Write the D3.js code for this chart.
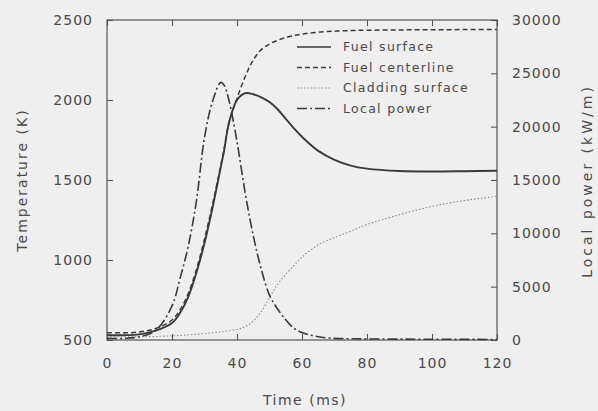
<!DOCTYPE html>
<html>
<head>
<meta charset="utf-8">
<script src="https://cdn.jsdelivr.net/npm/d3@7"></script>
<style>
  html, body { margin: 0; padding: 0; background: #efefef; }
  svg { display: block; }
  text { font-family: "DejaVu Sans", sans-serif; fill: #4a4a4a; }
</style>
</head>
<body>
<svg id="chart" width="598" height="411"></svg>
<script>
// ---- data ----
const time = [0, 5, 10, 15, 20, 22.5, 25, 27.5, 30, 32.5, 35, 36, 37.5, 40, 42.5, 45, 47.5, 50, 52.5, 55, 57.5, 60, 65, 70, 75, 80, 90, 100, 110, 120];
const fuelSurface = [530, 530, 535, 558, 606, 670, 770, 920, 1106, 1330, 1580, 1680, 1855, 2000, 2042, 2036, 2017, 1987, 1942, 1882, 1823, 1770, 1682, 1626, 1590, 1571, 1556, 1553, 1555, 1558];
const fuelCenterline = [545, 545, 550, 572, 625, 690, 790, 940, 1130, 1350, 1590, 1690, 1855, 2010, 2145, 2250, 2315, 2350, 2373, 2390, 2403, 2412, 2424, 2430, 2434, 2436, 2438, 2439, 2440, 2440];
const claddingSurface = [520, 520, 520, 522, 526, 528, 532, 536, 540, 545, 550, 553, 558, 566, 583, 618, 678, 765, 848, 910, 965, 1018, 1095, 1140, 1180, 1222, 1283, 1335, 1372, 1398];
const localPower = [150, 150, 300, 900, 3200, 5800, 8800, 13000, 19000, 22400, 24150, 23900, 22500, 18600, 13800, 9800, 6600, 4200, 2900, 1900, 1100, 700, 300, 150, 120, 100, 80, 70, 60, 50];

const xTicks = [0, 20, 40, 60, 80, 100, 120];
const tempTicks = [500, 1000, 1500, 2000, 2500];
const powerTicks = [0, 5000, 10000, 15000, 20000, 25000, 30000];

const seriesNames = ["Fuel surface", "Fuel centerline", "Cladding surface", "Local power"];

// ---- layout ----
const svg = d3.select("#chart");
const L = 107, R = 497, T = 20, B = 340;

const x = d3.scaleLinear().domain([0, 120]).range([L, R]);
const yT = d3.scaleLinear().domain([500, 2500]).range([B, T]);
const yP = d3.scaleLinear().domain([0, 30000]).range([B, T]);

const styles = [
  { stroke: "#3a3a3a", width: 1.9, dash: null },
  { stroke: "#3a3a3a", width: 1.5, dash: "5,3" },
  { stroke: "#8a8a8a", width: 1.1, dash: "1.5,2" },
  { stroke: "#3a3a3a", width: 1.6, dash: "10,3,2,3" }
];

// frame
svg.append("rect")
  .attr("x", L).attr("y", T).attr("width", R - L).attr("height", B - T)
  .attr("fill", "none").attr("stroke", "#555").attr("stroke-width", 1.2);

function styleAxis(g) {
  g.select(".domain").remove();
  g.selectAll(".tick line").attr("stroke", "#555").attr("stroke-width", 1.1);
  g.selectAll(".tick text")
    .style("font-family", "DejaVu Sans, sans-serif")
    .style("font-size", "14px")
    .style("letter-spacing", "1px")
    .attr("fill", "#4a4a4a");
}

svg.append("g").attr("transform", `translate(0,${B})`)
  .call(d3.axisBottom(x).tickValues(xTicks).tickSize(-6).tickPadding(18).tickFormat(d3.format("d")))
  .call(styleAxis);
svg.append("g").attr("transform", `translate(0,${T})`)
  .call(d3.axisTop(x).tickValues(xTicks).tickSize(-6).tickFormat(""))
  .call(styleAxis);
svg.append("g").attr("transform", `translate(${L},0)`)
  .call(d3.axisLeft(yT).tickValues(tempTicks).tickSize(-6).tickPadding(14).tickFormat(d3.format("d")))
  .call(styleAxis);
svg.append("g").attr("transform", `translate(${R},0)`)
  .call(d3.axisRight(yP).tickValues(powerTicks).tickSize(-6).tickPadding(15).tickFormat(d3.format("d")))
  .call(styleAxis);

// axis titles
svg.append("text").attr("x", 305).attr("y", 405).attr("text-anchor", "middle")
  .style("font-size", "14px").style("letter-spacing", "1.5px").text("Time (ms)");
svg.append("text").attr("transform", "translate(27,180) rotate(-90)").attr("text-anchor", "middle")
  .style("font-size", "14px").style("letter-spacing", "2px").text("Temperature (K)");
svg.append("text").attr("transform", "translate(592,181) rotate(-90)").attr("text-anchor", "middle")
  .style("font-size", "14px").style("letter-spacing", "3px").text("Local power (kW/m)");

// lines
const curve = d3.curveCatmullRom.alpha(0.5);
const tempLine = d3.line().x((d, i) => x(time[i])).y(d => yT(d)).curve(curve);
const powLine = d3.line().x((d, i) => x(time[i])).y(d => yP(d)).curve(curve);

const plot = svg.append("g");
[fuelSurface, fuelCenterline, claddingSurface].forEach((s, k) => {
  plot.append("path").attr("d", tempLine(s)).attr("fill", "none")
    .attr("stroke", styles[k].stroke).attr("stroke-width", styles[k].width)
    .attr("stroke-dasharray", styles[k].dash);
});
plot.append("path").attr("d", powLine(localPower)).attr("fill", "none")
  .attr("stroke", styles[3].stroke).attr("stroke-width", styles[3].width)
  .attr("stroke-dasharray", styles[3].dash);

// legend
const leg = svg.append("g");
seriesNames.forEach((name, i) => {
  const yy = 47 + i * 20.5;
  leg.append("line").attr("x1", 297).attr("x2", 331).attr("y1", yy).attr("y2", yy)
    .attr("stroke", styles[i].stroke).attr("stroke-width", Math.min(styles[i].width, 1.4))
    .attr("stroke-dasharray", styles[i].dash);
  leg.append("text").attr("x", 343).attr("y", yy).attr("dy", "0.35em")
    .style("font-size", "12.5px").style("letter-spacing", "1.3px").text(name);
});
</script>
</body>
</html>
